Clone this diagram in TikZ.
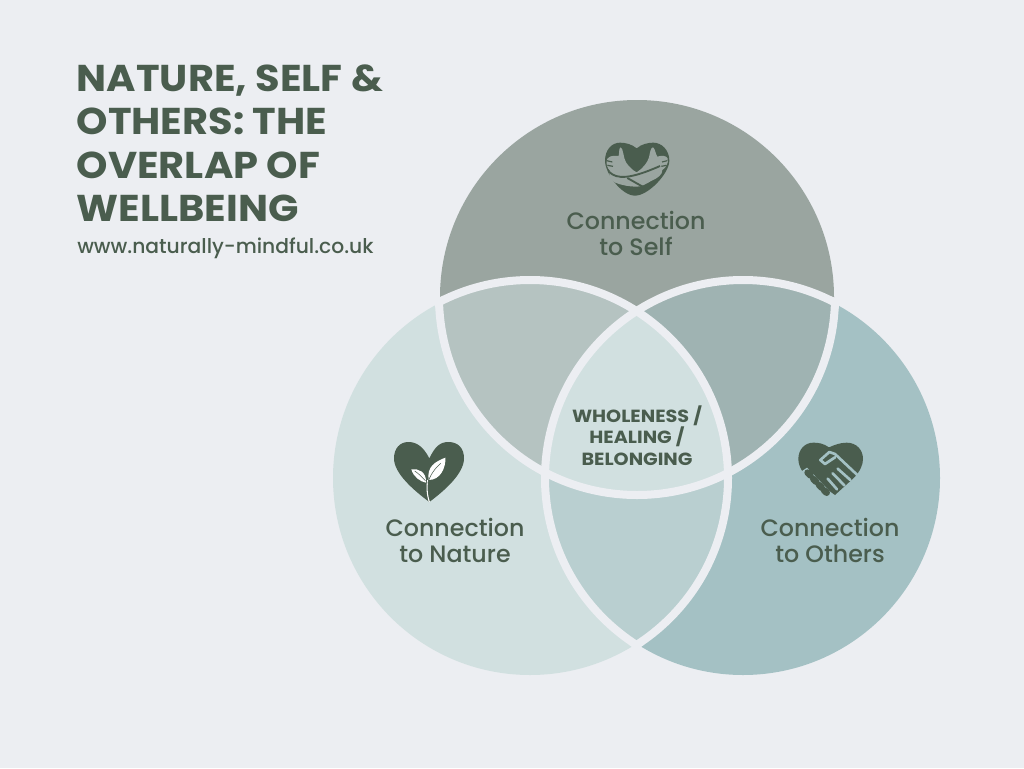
\documentclass[tikz,border=0pt]{standalone}
\usepackage{fontspec}
\setmainfont{Poppins}
\newfontfamily\medfont{Poppins Medium}
\newfontfamily\titlefont[FakeStretch=1.07]{Poppins Bold}
\newfontfamily\wholefont[FakeStretch=1.09]{Poppins Bold}
\definecolor{bgcol}{HTML}{ECEEF2}
\definecolor{topcol}{HTML}{9AA5A0}
\definecolor{leftcol}{HTML}{D1E0E0}
\definecolor{rightcol}{HTML}{A4C1C4}
\definecolor{topleftcol}{HTML}{B5C3C1}
\definecolor{toprightcol}{HTML}{9FB3B2}
\definecolor{lowcol}{HTML}{B9CFD0}
\definecolor{inkcol}{HTML}{4A5D4E}
\tikzset{
  ring/.style={draw=bgcol,line width=6pt},
  setlabel/.style={text=inkcol,align=center,font=\medfont\fontsize{17.8}{19.5}\selectfont},
  gap/.style={rightcol,line width=2pt,line cap=round},
  pill/.style={inkcol,line width=5pt,line cap=round},
}
\newcommand{\heartshape}{(148,85) .. controls (130,50) and (110,36) .. (85,36) .. controls (60,36) and (42,55) .. (42,85) .. controls (42,130) and (100,180) .. (148,216) .. controls (196,180) and (252,130) .. (252,85) .. controls (252,55) and (235,36) .. (205,36) .. controls (180,36) and (165,50) .. (148,85) -- cycle}
\begin{document}
\begin{tikzpicture}[x=0.75pt,y=-0.75pt]
\fill[bgcol] (0,0) rectangle (1024,768);
\coordinate (top) at (637,297);
\coordinate (left) at (530,478);
\coordinate (right) at (743,478);

%les trois cercles
\fill[leftcol] (left) circle (197);
\fill[rightcol] (right) circle (197);
\fill[topcol] (top) circle (197);

%les recouvrements
\begin{scope}
\clip (top) circle (197);
\fill[topleftcol] (left) circle (197);
\fill[toprightcol] (right) circle (197);
\clip (left) circle (197);
\fill[leftcol] (right) circle (197);
\end{scope}
\begin{scope}
\clip (left) circle (197);
\clip (right) circle (197);
\fill[lowcol] (left) circle (197);
\clip (top) circle (197);
\fill[leftcol] (left) circle (197);
\end{scope}

%les anneaux
\begin{scope}
\clip (left) circle (202) (right) circle (202);
\draw[ring] (top) circle (198);
\end{scope}
\begin{scope}
\clip (top) circle (202) (right) circle (202);
\draw[ring] (left) circle (198);
\end{scope}
\begin{scope}
\clip (top) circle (202) (left) circle (202);
\draw[ring] (right) circle (198);
\end{scope}

%textes
\node[anchor=north west,inner sep=0pt,text=inkcol,align=left,font=\titlefont\fontsize{28}{32.7}\selectfont] (title) at (76.5,64) {NATURE, SELF \&\\OTHERS: THE\\OVERLAP OF\\WELLBEING};
\node[anchor=west,inner sep=0pt,text=inkcol,font=\medfont\fontsize{15.2}{16}\selectfont] (site) at (77,248) {www.naturally-mindful.co.uk};
\node[setlabel] (selflabel) at (636,233.5) {Connection\\to Self};
\node[setlabel] (naturelabel) at (455,540.5) {Connection\\to Nature};
\node[setlabel] (otherslabel) at (830,540.5) {Connection\\to Others};
\node[text=inkcol,align=center,font=\wholefont\fontsize{13.2}{16.1}\selectfont] (wholelabel) at (637,435.5) {WHOLENESS /\\HEALING /\\BELONGING};

%coeur et feuilles
\begin{scope}[shift={(380,430)},scale=1/3]
\fill[inkcol] \heartshape;
\fill[white] (146,150) .. controls (140,110) and (165,95) .. (196,83) .. controls (198,115) and (180,150) .. (146,150) -- cycle;
\fill[white] (138,158) .. controls (120,155) and (100,140) .. (94,118) .. controls (115,115) and (140,125) .. (138,158) -- cycle;
\draw[white,line width=0.8pt] (148,216) .. controls (140,190) and (140,170) .. (143,150);
\draw[inkcol,line width=0.4pt] (143,160) .. controls (150,135) and (165,115) .. (182,100);
\draw[inkcol,line width=0.4pt] (136,152) .. controls (125,140) and (115,130) .. (104,123);
\end{scope}

%coeur et poignee de main
\begin{scope}[shift={(785,430)},scale=1/3]
\fill[inkcol] (132,52) .. controls (115,40) and (100,38) .. (85,38) .. controls (58,38) and (40,60) .. (40,87) .. controls (40,100) and (45,115) .. (55,128) -- (150,195) -- (205,145) .. controls (225,125) and (234,105) .. (234,87) .. controls (234,60) and (215,38) .. (185,38) .. controls (165,38) and (148,45) .. (132,52) -- cycle;
\fill[rightcol] (48,125) -- (66,113) -- (142,192) -- (140,205) -- (110,205) -- cycle;
\draw[pill] (68,128) -- (76,136);
\draw[pill] (85,147) -- (93,155);
\draw[pill] (102,165) -- (110,173);
\draw[pill] (117,181) -- (125,188);
\draw[gap,line join=round] (218,136) -- (150,72) -- (133,66) -- (106,90) -- (120,102) -- (150,82);
\draw[gap] (128,146) -- (156,178);
\draw[gap] (143,130) -- (178,166);
\draw[gap] (158,116) -- (196,150);
\end{scope}

%coeur et bras
\begin{scope}[shift={(580,130)},scale=1/3]
\fill[inkcol] (170,55) .. controls (155,42) and (135,38) .. (120,38) .. controls (95,38) and (75,60) .. (75,92) .. controls (75,130) and (125,197) .. (165,197) .. controls (205,197) and (268,130) .. (268,92) .. controls (268,60) and (245,38) .. (220,38) .. controls (205,38) and (185,42) .. (170,55) -- cycle;
\fill[topcol] (122,52) .. controls (130,54) and (130,85) .. (138,97) .. controls (148,112) and (160,122) .. (170,127) .. controls (188,116) and (203,97) .. (207,82) .. controls (210,68) and (212,52) .. (219,52) .. controls (226,56) and (226,72) .. (232,80) .. controls (245,76) and (258,76) .. (263,85) .. controls (266,100) and (258,113) .. (247,120) .. controls (248,134) and (232,145) .. (215,152) .. controls (198,162) and (185,170) .. (170,170) .. controls (150,170) and (125,166) .. (106,158) .. controls (92,150) and (84,135) .. (90,122) .. controls (82,115) and (76,100) .. (82,86) .. controls (92,74) and (108,78) .. (116,78) .. controls (118,70) and (116,54) .. (122,52) -- cycle;
\draw[inkcol,line width=1.4pt] (88,126) .. controls (110,148) and (150,148) .. (240,108);
\draw[inkcol,line width=1.4pt] (142,144) -- (188,170);
\draw[inkcol,line width=0.9pt] (80,92) -- (97,96);
\draw[inkcol,line width=0.9pt] (82,106) -- (99,109);
\draw[inkcol,line width=0.9pt] (262,92) -- (246,96);
\draw[inkcol,line width=0.9pt] (260,106) -- (244,109);
\end{scope}

\end{tikzpicture}
\end{document}
